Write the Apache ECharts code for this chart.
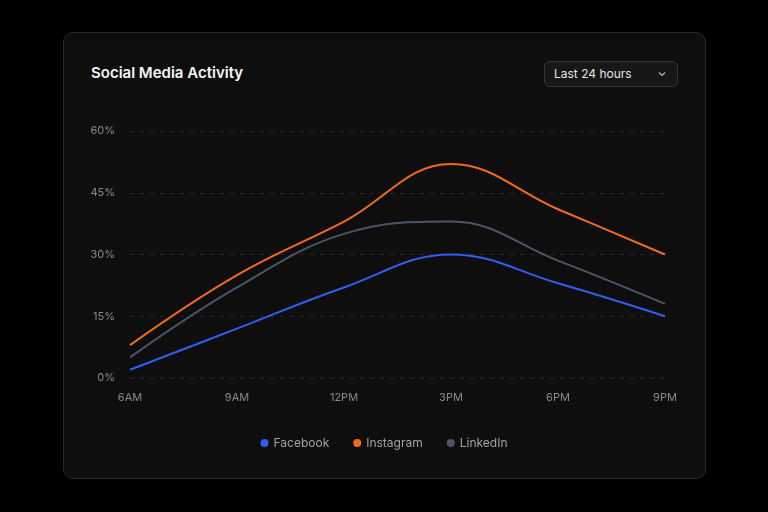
<!DOCTYPE html>
<html>
<head>
<meta charset="utf-8">
<script src="https://cdn.jsdelivr.net/npm/echarts@6/dist/echarts.min.js"></script>
<style>
  html, body { margin: 0; padding: 0; background: #000; width: 768px; height: 512px; overflow: hidden; font-family: Inter, "Noto Sans", sans-serif; }
  .card { position: absolute; left: 63px; top: 32px; width: 641px; height: 445px; background: #0e0e0e; border: 1px solid #282828; border-radius: 10px; }
  .title { position: absolute; left: 91px; top: 63px; color: #f5f5f5; font-size: 15px; font-weight: 600; }
  .select { position: absolute; left: 544px; top: 61px; width: 132px; height: 24px; border: 1px solid #363636; background: #171717; border-radius: 6px; color: #e5e5e5; font-size: 12px; line-height: 24px; box-sizing: content-box; }
  .select span { position: absolute; left: 9px; }
  .select svg { position: absolute; right: 11px; top: 9px; }
  #main { position: absolute; left: 0; top: 0; width: 768px; height: 512px; }
</style>
</head>
<body>
<div class="card"></div>
<div class="title">Social Media Activity</div>
<div class="select"><span>Last 24 hours</span>
  <svg width="8" height="6" viewBox="0 0 8 6"><path d="M1 1.5 L4 4.5 L7 1.5" stroke="#bbb" stroke-width="1.2" fill="none"/></svg>
</div>
<div id="main"></div>
<script>
var hours = ["6AM", "9AM", "12PM", "3PM", "6PM", "9PM"];
var facebook = [2, 12, 22, 30, 23, 15];
var instagram = [8, 25, 38, 52, 41, 30];
var linkedin = [5, 22, 35, 38, 28.5, 18];

var myChart = echarts.init(document.getElementById('main'));

function line(name, data, color) {
    return {
        name: name,
        type: 'line',
        data: data,
        smooth: 0.4,
        showSymbol: false,
        symbol: 'circle',
        lineStyle: { width: 2, color: color },
        itemStyle: { color: color }
    };
}

var option = {
    backgroundColor: 'transparent',
    animation: false,
    grid: { left: 130, right: 103, top: 131, bottom: 134 },
    legend: {
        bottom: 58,
        left: 'center',
        icon: 'circle',
        itemWidth: 8,
        itemHeight: 8,
        itemGap: 24,
        textStyle: { color: '#a3a3a3', fontSize: 12, fontFamily: 'Inter' },
        data: ['Facebook', 'Instagram', 'LinkedIn']
    },
    xAxis: {
        type: 'category',
        data: hours,
        boundaryGap: false,
        axisLine: { show: false },
        axisTick: { show: false },
        axisLabel: { color: '#8a8a8a', fontSize: 11, margin: 14, fontFamily: 'Inter' }
    },
    yAxis: {
        type: 'value',
        min: 0,
        max: 60,
        interval: 15,
        axisLine: { show: false },
        axisTick: { show: false },
        axisLabel: { color: '#8a8a8a', fontSize: 11, margin: 15, formatter: '{value}%', fontFamily: 'Inter' },
        splitLine: { lineStyle: { color: '#262626', type: [4, 6] } }
    },
    series: [
        line('Facebook', facebook, '#2f5ff0'),
        line('Instagram', instagram, '#f26b1d'),
        line('LinkedIn', linkedin, '#4b5566')
    ]
};

myChart.setOption(option);
</script>
</body>
</html>
